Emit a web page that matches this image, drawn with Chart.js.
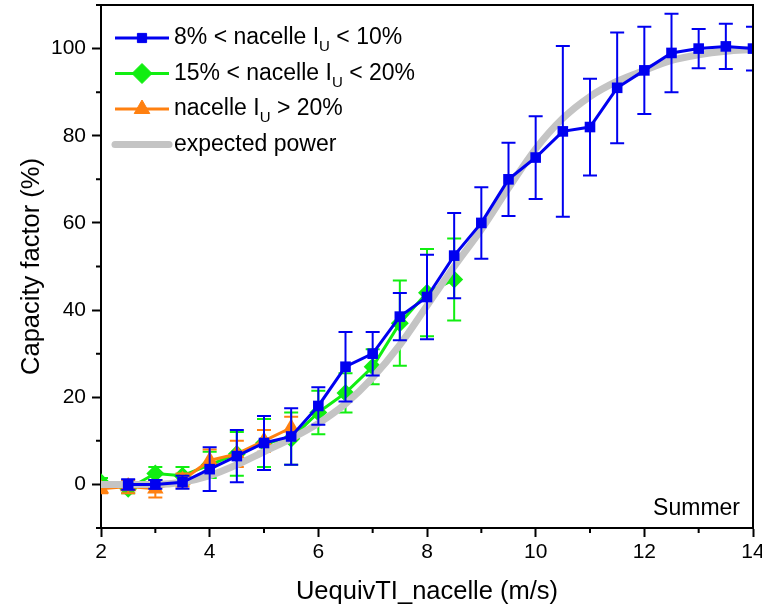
<!DOCTYPE html>
<html>
<head>
<meta charset="utf-8">
<title>Capacity factor - Summer</title>
<script src="https://cdn.jsdelivr.net/npm/chart.js@4.4.0/dist/chart.umd.min.js"></script>
<style>
  html, body { margin: 0; padding: 0; background: #fff; }
  #wrap { width: 762px; height: 613px; }
</style>
</head>
<body>
<div id="wrap"><canvas id="cfChart" width="762" height="613"></canvas></div>
<script>
const FONT = '"Liberation Sans", Arial, sans-serif';

// 8% < nacelle Iu < 10%
const blueWind = [2.5, 3, 3.5, 4, 4.5, 5, 5.5, 6, 6.5, 7, 7.5, 8, 8.5, 9, 9.5, 10, 10.5, 11, 11.5, 12, 12.5, 13, 13.5, 14];
const blueCF = [0, 0, 0.5, 3.5, 6.5, 9.5, 11, 18, 27, 30, 38.5, 43, 52.5, 60, 70, 75, 81, 82, 91, 95, 99, 100, 100.5, 100];
const blueErr = [1.2, 1, 1.5, 5, 6, 6.2, 6.5, 4.3, 8, 5, 5.4, 9.7, 9.8, 8.2, 8.4, 9.5, 19.6, 11.1, 12.7, 10, 9, 4.5, 5.2, 5];

// 15% < nacelle Iu < 20%
const greenWind = [2, 2.5, 3, 3.5, 4, 4.5, 5, 5.5, 6, 6.5, 7, 7.5, 8, 8.5];
const greenCF = [0.5, -1, 2.5, 2, 4.5, 7, 9.5, 10.5, 16.5, 21, 27, 37, 44, 47];
const greenErr = [1, 1, 1.5, 2, 3, 5, 5.5, 6, 5, 4.5, 4, 9.8, 10, 9.4];

// nacelle Iu > 20%
const orangeWind = [2, 2.5, 3, 3.5, 4, 4.5, 5, 5.5];
const orangeCF = [-1, -0.5, -1, 1, 5.5, 7, 10, 13];
const orangeErr = [1, 1.5, 2, 1.5, 2.5, 3, 2.5, 2.5];

// expected power curve
const expWind = [2, 2.5, 3, 3.5, 4, 4.5, 5, 5.5, 6, 6.5, 7, 7.5, 8, 8.5, 9, 9.5, 10, 10.5, 11, 11.5, 12, 12.5, 13, 13.5, 14];
const expCF = [0, 0, 0, 0.5, 2, 4.5, 7.5, 10.5, 14, 18.5, 24.5, 32, 41, 50, 58.5, 68, 77, 84, 89, 92.5, 95, 97.3, 98.6, 99.4, 99.8];

const xTicks = [2, 4, 6, 8, 10, 12, 14];
const yTicks = [0, 20, 40, 60, 80, 100];

const legendRows = [
  { parts: ['8% < nacelle I', 'U', ' < 10%'], color: '#0000f0', style: 'rect', radius: 6.5, width: 3 },
  { parts: ['15% < nacelle I', 'U', ' < 20%'], color: '#11ee11', style: 'rectRot', radius: 10, width: 3 },
  { parts: ['nacelle I', 'U', ' > 20%'], color: '#ff8010', style: 'triangle', radius: 9, width: 3 },
  { parts: ['expected power'], color: '#c4c4c4', style: false, radius: 0, width: 7 }
];

function pts(xs, ys) {
  return xs.map((x, i) => ({ x: x, y: ys[i] }));
}

// vertical error bars with caps, drawn just under each dataset's line
const errorBars = {
  id: 'errorBars',
  beforeDatasetDraw(chart, args) {
    const ds = chart.data.datasets[args.index];
    if (!ds.errors) return;
    const { ctx, chartArea } = chart;
    const xs = chart.scales.x, ys = chart.scales.y;
    ctx.save();
    ctx.beginPath();
    ctx.rect(chartArea.left, chartArea.top, chartArea.width, chartArea.height);
    ctx.clip();
    ctx.strokeStyle = ds.borderColor;
    ctx.lineWidth = 2;
    ds.data.forEach((p, i) => {
      const px = xs.getPixelForValue(p.x);
      const top = ys.getPixelForValue(p.y + ds.errors[i]);
      const bot = ys.getPixelForValue(p.y - ds.errors[i]);
      ctx.beginPath();
      ctx.moveTo(px, top); ctx.lineTo(px, bot);
      ctx.moveTo(px - 7, top); ctx.lineTo(px + 7, top);
      ctx.moveTo(px - 7, bot); ctx.lineTo(px + 7, bot);
      ctx.stroke();
    });
    ctx.restore();
  }
};

// box on top/right, minor ticks, legend and season label
const decorations = {
  id: 'decorations',
  afterDraw(chart) {
    const { ctx, chartArea } = chart;
    const xs = chart.scales.x, ys = chart.scales.y;
    ctx.save();
    ctx.strokeStyle = '#000';
    ctx.lineWidth = 2;
    ctx.beginPath();
    ctx.moveTo(chartArea.left, chartArea.top);
    ctx.lineTo(chartArea.right, chartArea.top);
    ctx.lineTo(chartArea.right, chartArea.bottom);
    ctx.stroke();

    // minor ticks
    ctx.beginPath();
    for (let v = 3; v < 14; v += 2) {
      const px = xs.getPixelForValue(v);
      ctx.moveTo(px, chartArea.bottom); ctx.lineTo(px, chartArea.bottom + 5);
    }
    for (let v = -10; v <= 110; v += 20) {
      const py = ys.getPixelForValue(v);
      ctx.moveTo(chartArea.left, py); ctx.lineTo(chartArea.left - 5, py);
    }
    ctx.stroke();

    // legend
    const x0 = chartArea.left + 14, x1 = chartArea.left + 68, tx = chartArea.left + 73;
    legendRows.forEach((row, i) => {
      const y = 38 + i * 35.5;
      ctx.strokeStyle = row.color;
      ctx.lineWidth = row.width;
      ctx.lineCap = row.style ? 'butt' : 'round';
      ctx.beginPath();
      ctx.moveTo(x0, y); ctx.lineTo(x1, y);
      ctx.stroke();
      if (row.style) {
        ctx.fillStyle = row.color;
        ctx.lineWidth = 1;
        Chart.helpers.drawPoint(ctx, { pointStyle: row.style, radius: row.radius, rotation: 0, borderWidth: 1 }, (x0 + x1) / 2, y);
      }
      ctx.fillStyle = '#000';
      ctx.textBaseline = 'middle';
      let cx = tx;
      row.parts.forEach((t, k) => {
        const sub = k === 1;
        ctx.font = (sub ? '15px ' : '23px ') + FONT;
        ctx.fillText(t, cx, sub ? y + 9 : y);
        cx += ctx.measureText(t).width;
      });
    });

    ctx.font = '23px ' + FONT;
    ctx.textAlign = 'right';
    ctx.textBaseline = 'alphabetic';
    ctx.fillStyle = '#000';
    ctx.fillText('Summer', chartArea.right - 13, chartArea.bottom - 13);
    ctx.restore();
  }
};

new Chart(document.getElementById('cfChart'), {
  type: 'line',
  data: {
    datasets: [
      {
        label: 'expected power', data: pts(expWind, expCF),
        borderColor: '#c4c4c4', borderWidth: 7, pointRadius: 0,
        cubicInterpolationMode: 'monotone', order: 1, clip: 0
      },
      {
        label: '8% < nacelle Iu < 10%', data: pts(blueWind, blueCF), errors: blueErr,
        borderColor: '#0000f0', backgroundColor: '#0000f0', borderWidth: 3,
        pointStyle: 'rect', pointRadius: 7.5, pointBorderWidth: 0, order: 0, clip: 0
      },
      {
        label: '15% < nacelle Iu < 20%', data: pts(greenWind, greenCF), errors: greenErr,
        borderColor: '#11ee11', backgroundColor: '#11ee11', borderWidth: 3,
        pointStyle: 'rectRot', pointRadius: 9, pointBorderWidth: 0, order: 3, clip: 0
      },
      {
        label: 'nacelle Iu > 20%', data: pts(orangeWind, orangeCF), errors: orangeErr,
        borderColor: '#ff8010', backgroundColor: '#ff8010', borderWidth: 3,
        pointStyle: 'triangle', pointRadius: 9.5, pointBorderWidth: 0, order: 2, clip: 0
      }
    ]
  },
  options: {
    responsive: false,
    animation: false,
    devicePixelRatio: 1,
    layout: { autoPadding: false, padding: { top: 5, right: 9, left: 0, bottom: 0 } },
    plugins: { legend: { display: false }, tooltip: { enabled: false } },
    scales: {
      x: {
        type: 'linear', min: 2, max: 14,
        afterBuildTicks: s => { s.ticks = xTicks.map(v => ({ value: v })); },
        afterFit: s => { s.height = 85; s.paddingLeft = 0; s.paddingRight = 0; },
        ticks: { font: { family: FONT, size: 21 }, color: '#000', padding: 3, maxRotation: 0 },
        grid: { drawOnChartArea: false, tickLength: 9, tickWidth: 2, tickColor: '#000' },
        border: { display: true, color: '#000', width: 2 },
        title: { display: true, text: 'UequivTI_nacelle (m/s)', font: { family: FONT, size: 25.5 }, color: '#000', padding: { top: 0, bottom: 6 } }
      },
      y: {
        type: 'linear', min: -10, max: 110,
        afterBuildTicks: s => { s.ticks = yTicks.map(v => ({ value: v })); },
        afterFit: s => { s.width = 101; s.paddingTop = 0; s.paddingBottom = 0; },
        ticks: { font: { family: FONT, size: 21 }, color: '#000', padding: 6 },
        grid: { drawOnChartArea: false, tickLength: 9, tickWidth: 2, tickColor: '#000' },
        border: { display: true, color: '#000', width: 2 },
        title: { display: true, text: 'Capacity factor (%)', font: { family: FONT, size: 25.5 }, color: '#000', padding: { top: 17, bottom: 0 } }
      }
    }
  },
  plugins: [errorBars, decorations]
});
</script>
</body>
</html>
